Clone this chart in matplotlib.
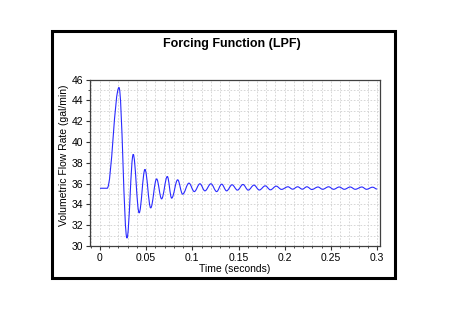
import matplotlib
matplotlib.use("Agg")
import matplotlib.pyplot as plt
from matplotlib.patches import Rectangle, PathPatch
from matplotlib.path import Path
from matplotlib.ticker import MultipleLocator

plt.rcParams['font.family'] = ['Liberation Sans', 'DejaVu Sans']

# Turning points of the curve
# (time in s, flow in gal/min)
time_s = [0.0, 0.0078, 0.0206, 0.0292, 0.0360, 0.0424, 0.0487, 0.0549, 0.0613, 0.0667,
          0.0729, 0.0776, 0.0841, 0.0895, 0.0963, 0.1021, 0.1082, 0.1136, 0.1201, 0.1263,
          0.1317, 0.1371, 0.1430, 0.1488, 0.1548, 0.1605, 0.1667, 0.1725, 0.1789, 0.1845,
          0.1908, 0.1965, 0.2035, 0.2085, 0.2140, 0.2190, 0.2240, 0.2294, 0.2360, 0.2410,
          0.2475, 0.2529, 0.2590, 0.2645, 0.2709, 0.2763, 0.2835, 0.2885, 0.2951, 0.3000]
flow_gpm = [35.55, 35.55, 45.23, 30.77, 38.80, 33.18, 37.36, 33.66, 36.45, 34.53,
            36.68, 34.60, 36.36, 34.98, 36.04, 35.23, 35.98, 35.30, 35.98, 35.23,
            35.94, 35.30, 35.88, 35.37, 35.91, 35.37, 35.85, 35.38, 35.78, 35.40,
            35.75, 35.44, 35.69, 35.46, 35.69, 35.46, 35.69, 35.43, 35.67, 35.45,
            35.69, 35.45, 35.67, 35.45, 35.67, 35.45, 35.67, 35.45, 35.65, 35.47]

x_ticks = [0, 0.05, 0.1, 0.15, 0.2, 0.25, 0.3]
x_tick_labels = ["0", "0.05", "0.1", "0.15", "0.2", "0.25", "0.3"]
y_ticks = [30, 32, 34, 36, 38, 40, 42, 44, 46]

W, H = 475, 328
fig = plt.figure(figsize=(W / 100, H / 100), dpi=100)
fig.patch.set_facecolor('white')

# outer frame
fig.add_artist(Rectangle((51.5 / W, 1 - 277.5 / H), (394.5 - 51.5) / W, (277.5 - 30.5) / H,
                         transform=fig.transFigure, fill=False, edgecolor='black',
                         linewidth=2.2))

ax = fig.add_axes([90 / W, 1 - 246 / H, (379.7 - 90) / W, (246 - 79.5) / H])

# smooth curve through the turning points (horizontal tangents at each one)
k = 0.3642
verts = [(time_s[0], flow_gpm[0])]
codes = [Path.MOVETO]
for i in range(1, len(time_s)):
    t0, v0, t1, v1 = time_s[i - 1], flow_gpm[i - 1], time_s[i], flow_gpm[i]
    dt = t1 - t0
    verts += [(t0 + k * dt, v0), (t1 - k * dt, v1), (t1, v1)]
    codes += [Path.CURVE4] * 3
curve = PathPatch(Path(verts, codes), fill=False, edgecolor='#2a2aff', linewidth=0.8,
                  transform=ax.transData)
ax.add_patch(curve)

ax.set_xlim(-0.0108, 0.3028)
ax.set_ylim(30, 46)
ax.set_xticks(x_ticks)
ax.set_xticklabels(x_tick_labels)
ax.set_yticks(y_ticks)
ax.xaxis.set_minor_locator(MultipleLocator(0.01))
ax.yaxis.set_minor_locator(MultipleLocator(1))
ax.grid(which='both', color='#d0d0d0', linestyle=(0, (2, 2)), linewidth=0.6)
ax.set_axisbelow(True)
ax.tick_params(which='major', length=3, width=0.8, labelsize=7.5, pad=2, colors='#333333',
               labelcolor='black')
ax.tick_params(which='minor', length=1.5, width=0.6, colors='#333333')
for s in ax.spines.values():
    s.set_color('#404040')
    s.set_linewidth(0.9)

ax.set_xlabel("Time (seconds)", fontsize=7.5, labelpad=1)
ax.set_ylabel("Volumetric Flow Rate (gal/min)", fontsize=7.5)
ax.yaxis.set_label_coords(-0.072, 0.543)

fig.text(232 / W, 1 - 44.5 / H, "Forcing Function (LPF)", ha='center', va='center',
         fontsize=9, fontweight='bold')

fig.savefig("out.png", dpi=100)
